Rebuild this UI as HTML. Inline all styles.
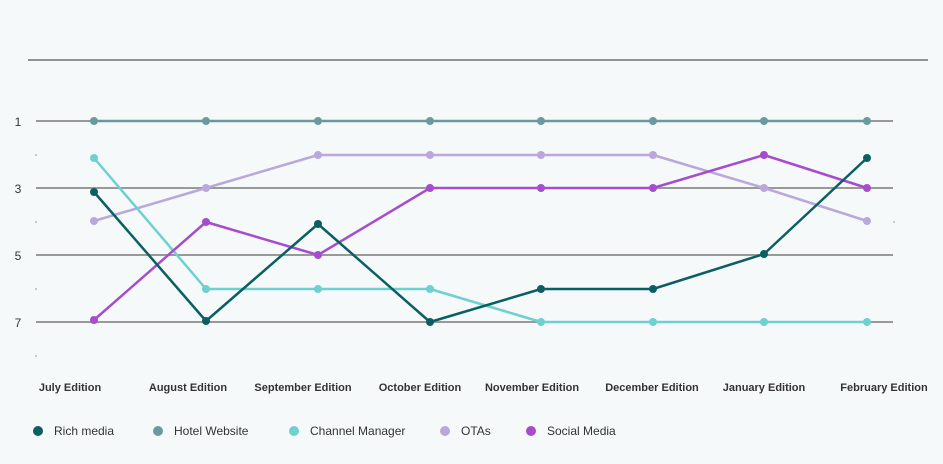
<!DOCTYPE html>
<html><head><style>
body{margin:0;background:#f6f9fa;}
svg{display:block;font-family:"Liberation Sans",sans-serif;}
</style></head><body>
<svg width="943" height="464" viewBox="0 0 943 464">
<rect width="943" height="464" fill="#f6f9fa"/>
<line x1="28" y1="60" x2="928" y2="60" stroke="#555" stroke-width="1.2"/>
<g stroke="#999" stroke-width="2">
<line x1="36" y1="121" x2="893" y2="121"/>
<line x1="36" y1="188" x2="893" y2="188"/>
<line x1="36" y1="255" x2="893" y2="255"/>
<line x1="36" y1="322" x2="893" y2="322"/>
</g>
<g fill="#bbb"><circle cx="36" cy="155" r="1"/><circle cx="36" cy="222" r="1"/><circle cx="36" cy="289" r="1"/><circle cx="36" cy="356" r="1"/><circle cx="894" cy="222" r="1"/></g>
<g font-size="12" fill="#333" text-anchor="middle">
<text x="18" y="126">1</text><text x="18" y="193">3</text><text x="18" y="260">5</text><text x="18" y="327">7</text>
</g>
<g font-size="11" fill="#333" text-anchor="middle" font-weight="bold">
<text x="70" y="391">July Edition</text>
<text x="188" y="391">August Edition</text>
<text x="303" y="391">September Edition</text>
<text x="420" y="391">October Edition</text>
<text x="532" y="391">November Edition</text>
<text x="652" y="391">December Edition</text>
<text x="764" y="391">January Edition</text>
<text x="884" y="391">February Edition</text>
</g>
<g fill="none" stroke-width="2.5" stroke-linejoin="round">
<polyline stroke="#6b9a9e" points="94,121 206,121 318,121 430,121 541,121 653,121 764,121 867,121"/>
<polyline stroke="#b9a8dc" points="94,221 206,188 318,155 430,155 541,155 653,155 764,188 867,221"/>
<polyline stroke="#6fd0d0" points="94,158 206,289 318,289 430,289 541,322 653,322 764,322 867,322"/>
<polyline stroke="#a64ccc" points="94,320 206,222 318,255 430,188 541,188 653,188 764,155 867,188"/>
<polyline stroke="#0b5f63" points="94,192 206,321 318,224 430,322 541,289 653,289 764,254 867,158"/>
</g>
<g fill="#6b9a9e"><circle cx="94" cy="121" r="4"/><circle cx="206" cy="121" r="4"/><circle cx="318" cy="121" r="4"/><circle cx="430" cy="121" r="4"/><circle cx="541" cy="121" r="4"/><circle cx="653" cy="121" r="4"/><circle cx="764" cy="121" r="4"/><circle cx="867" cy="121" r="4"/></g>
<g fill="#b9a8dc"><circle cx="94" cy="221" r="4"/><circle cx="206" cy="188" r="4"/><circle cx="318" cy="155" r="4"/><circle cx="430" cy="155" r="4"/><circle cx="541" cy="155" r="4"/><circle cx="653" cy="155" r="4"/><circle cx="764" cy="188" r="4"/><circle cx="867" cy="221" r="4"/></g>
<g fill="#6fd0d0"><circle cx="94" cy="158" r="4"/><circle cx="206" cy="289" r="4"/><circle cx="318" cy="289" r="4"/><circle cx="430" cy="289" r="4"/><circle cx="541" cy="322" r="4"/><circle cx="653" cy="322" r="4"/><circle cx="764" cy="322" r="4"/><circle cx="867" cy="322" r="4"/></g>
<g fill="#a64ccc"><circle cx="94" cy="320" r="4"/><circle cx="206" cy="222" r="4"/><circle cx="318" cy="255" r="4"/><circle cx="430" cy="188" r="4"/><circle cx="541" cy="188" r="4"/><circle cx="653" cy="188" r="4"/><circle cx="764" cy="155" r="4"/><circle cx="867" cy="188" r="4"/></g>
<g fill="#0b5f63"><circle cx="94" cy="192" r="4"/><circle cx="206" cy="321" r="4"/><circle cx="318" cy="224" r="4"/><circle cx="430" cy="322" r="4"/><circle cx="541" cy="289" r="4"/><circle cx="653" cy="289" r="4"/><circle cx="764" cy="254" r="4"/><circle cx="867" cy="158" r="4"/></g>
<g font-size="12" fill="#333">
<circle cx="38" cy="431" r="5" fill="#0b5f63"/><text x="54" y="435">Rich media</text>
<circle cx="158" cy="431" r="5" fill="#6b9a9e"/><text x="174" y="435">Hotel Website</text>
<circle cx="294" cy="431" r="5" fill="#6fd0d0"/><text x="310" y="435">Channel Manager</text>
<circle cx="445" cy="431" r="5" fill="#b9a8dc"/><text x="461" y="435">OTAs</text>
<circle cx="531" cy="431" r="5" fill="#a64ccc"/><text x="547" y="435">Social Media</text>
</g>
</svg>
</body></html>
